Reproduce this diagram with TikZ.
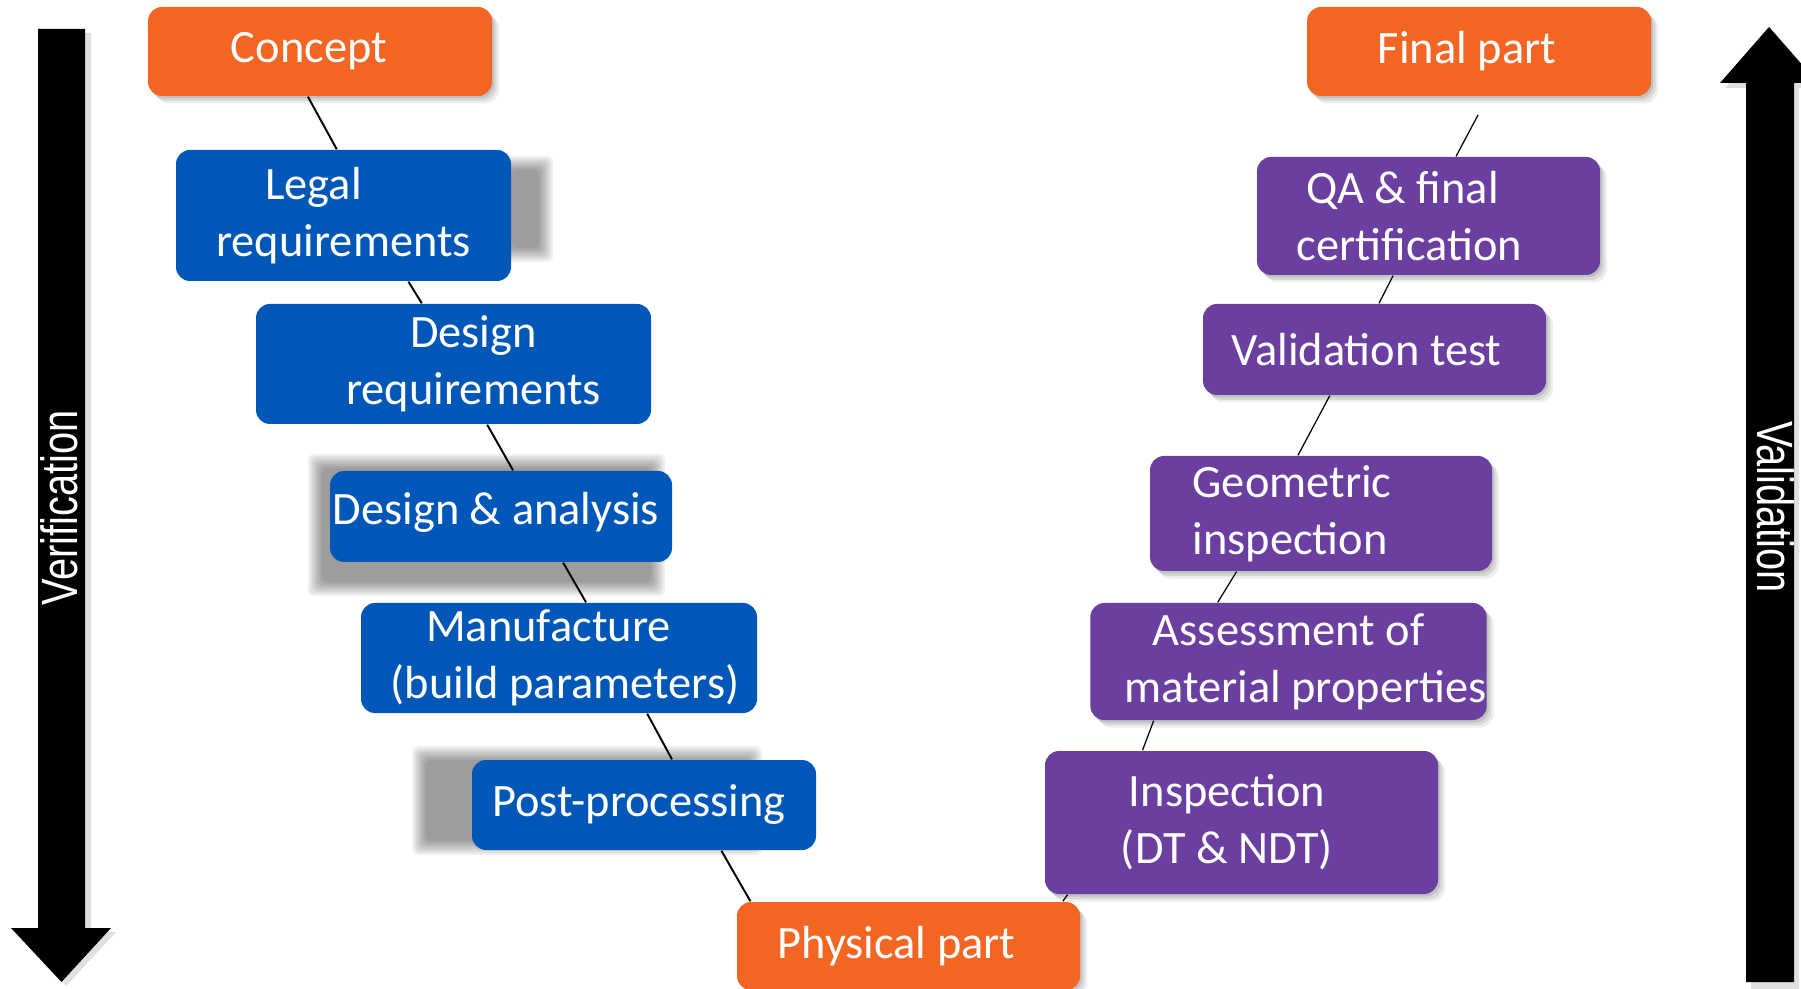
\documentclass[tikz,border=0pt]{standalone}
\usepackage{fontspec}
\setmainfont{Carlito}
\newfontfamily\arialf{Liberation Sans}
\usepackage{graphicx}
\usetikzlibrary{calc,shadows}
\definecolor{vorange}{HTML}{F26522}
\definecolor{vblue}{HTML}{0057B8}
\definecolor{vpurple}{HTML}{6B3FA0}
\newcommand\blurbox[4]{%
  \foreach \k in {0,...,7}{%
    \fill[black, opacity=0.06, rounded corners=0.06cm]
      (#1-8+2*\k,#2-8+2*\k) rectangle (#3+8-2*\k,#4+8-2*\k);}}
\begin{document}
\begin{tikzpicture}[x=0.01cm,y=-0.01cm,
  box/.style={rounded corners=0.14cm, text=white, align=center, inner sep=0pt,
    font=\fontsize{13.2}{16.2}\selectfont},
  wh/.style 2 args={minimum width=#1*0.01cm, minimum height=#2*0.01cm},
  softshadow/.style={
    general shadow={shadow xshift=0.02cm, shadow yshift=-0.025cm, fill=black, opacity=0.10},
    general shadow={shadow xshift=0.045cm, shadow yshift=-0.05cm, fill=black, opacity=0.09},
    general shadow={shadow xshift=0.07cm, shadow yshift=-0.075cm, fill=black, opacity=0.07}},
  obox/.style={box, fill=vorange, softshadow},
  pbox/.style={box, fill=vpurple, softshadow},
  bbox/.style={box, fill=vblue},
  conn/.style={draw=black, line width=0.55pt},
  connr/.style={draw=black, line width=0.35pt},
  sidelbl/.style={text=white, inner sep=0pt, font=\arialf\fontsize{14.5}{16}\selectfont}]
\useasboundingbox (0,0) rectangle (1801,989);
\clip (0,0) rectangle (1801,989);

% side arrows
\fill[black!12] (43,33) -- (91,33) -- (91,932) -- (116,932) -- (66,986) -- (16,932) -- (43,932) -- cycle;
\fill[black] (38,29) -- (85,29) -- (85,928) -- (111,928) -- (61.5,982) -- (11,928) -- (38,928) -- cycle;
\node[sidelbl, rotate=90] (verif) at (59,508) {\scalebox{0.78}[1]{Verification}};

\fill[black!12] (1751,989) -- (1751,88) -- (1725,88) -- (1774,32) -- (1823,88) -- (1799,88) -- (1799,989) -- cycle;
\fill[black] (1746,982) -- (1746,83) -- (1720,83) -- (1769,27) -- (1818,83) -- (1794,83) -- (1794,982) -- cycle;
\node[sidelbl, rotate=-90] (valid) at (1776,507) {\scalebox{0.78}[1]{Validation}};

% odd grey shadows behind blue boxes
\blurbox{505}{164}{545}{254}
\blurbox{316}{462}{657}{588}
\blurbox{420}{754}{754}{847}

% left branch
\node[obox, wh={344}{89}] (concept) at (320,51.5) {Concept\hspace*{0.22cm}};
\node[bbox, wh={335}{131}] (legal) at (343.5,215.5) {Legal\hspace*{0.6cm}\\requirements};
\node[bbox, wh={395}{120}] (desreq) at (453.5,364) {\hspace*{0.4cm}Design\\\hspace*{0.4cm}requirements};
\node[bbox, wh={342}{91}] (desan) at (501,516.5) {\raisebox{0.16cm}{Design \& analysis}\hspace*{0.1cm}};
\node[bbox, wh={396}{110}] (manuf) at (559,658) {Manufacture\hspace*{0.21cm}\\\hspace*{0.12cm}(build parameters)};
\node[bbox, wh={344}{90}] (post) at (644,805) {Post-processing\hspace*{0.1cm}};
\node[obox, wh={343}{88}] (phys) at (908.5,946) {Physical part\hspace*{0.24cm}};

% right branch
\node[pbox, wh={393}{143}] (insp) at (1241.5,822.5) {\raisebox{-0.06cm}{Inspection\hspace*{0.29cm}}\\\raisebox{-0.06cm}{(DT \& NDT)\hspace*{0.29cm}}};
\node[pbox, wh={385}{117}] (assess) at (1288.5,661.5) {Assessment of\\\hspace*{0.34cm}material properties};
\node[pbox, wh={342}{115}, align=left] (geo) at (1321,513.5) {Geometric\hspace*{0.58cm}\\inspection\hspace*{0.58cm}};
\node[pbox, wh={343}{91}] (valtest) at (1374.5,349.5) {Validation test\hspace*{0.16cm}};
\node[pbox, wh={343}{118}] (qa) at (1428.5,216) {QA \& final\hspace*{0.52cm}\\certification\hspace*{0.38cm}};
\node[obox, wh={344}{89}] (final) at (1479,51.5) {Final part\hspace*{0.24cm}};
\coordinate (fe) at (1478,115);

% connectors
\draw[conn] ($(concept.south west)!.465!(concept.south east)$) -- ($(legal.north west)!.48!(legal.north east)$);
\draw[conn] ($(legal.south west)!.693!(legal.south east)$) -- ($(desreq.north west)!.42!(desreq.north east)$);
\draw[conn] ($(desreq.south west)!.585!(desreq.south east)$) -- ($(desan.north west)!.535!(desan.north east)$);
\draw[conn] ($(desan.south west)!.681!(desan.south east)$) -- ($(manuf.north west)!.568!(manuf.north east)$);
\draw[conn] ($(manuf.south west)!.722!(manuf.south east)$) -- ($(post.north west)!.581!(post.north east)$);
\draw[conn] ($(post.south west)!.724!(post.south east)$) -- ($(phys.north west)!.041!(phys.north east)$);
\draw[connr] ($(phys.north west)!.948!(phys.north east)$) -- ($(insp.south west)!.059!(insp.south east)$);
\draw[connr] ($(insp.north west)!.249!(insp.north east)$) -- ($(assess.south west)!.161!(assess.south east)$);
\draw[connr] ($(assess.north west)!.322!(assess.north east)$) -- ($(geo.south west)!.254!(geo.south east)$);
\draw[connr] ($(geo.north west)!.433!(geo.north east)$) -- ($(valtest.south west)!.37!(valtest.south east)$);
\draw[connr] ($(valtest.north west)!.513!(valtest.north east)$) -- ($(qa.south west)!.397!(qa.south east)$);
\draw[connr] ($(qa.north west)!.58!(qa.north east)$) -- (fe);
\end{tikzpicture}
\end{document}
